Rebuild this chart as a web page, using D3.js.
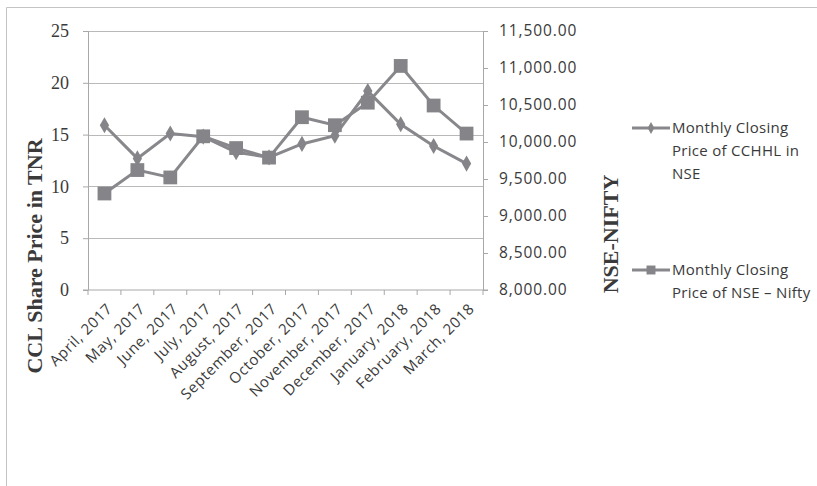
<!DOCTYPE html>
<html>
<head>
<meta charset="utf-8">
<script src="https://cdn.jsdelivr.net/npm/d3@7"></script>
<style>
  body { margin: 0; background: #fff; }
</style>
</head>
<body>
<div id="chart"></div>
<script>
// Monthly closing prices, April 2017 - March 2018
const months = ["April, 2017", "May, 2017", "June, 2017", "July, 2017", "August, 2017",
  "September, 2017", "October, 2017", "November, 2017", "December, 2017",
  "January, 2018", "February, 2018", "March, 2018"];
const cchhl = [15.9, 12.7, 15.1, 14.8, 13.3, 12.8, 14.1, 14.9, 19.2, 16.0, 13.9, 12.2];
const nifty = [9304, 9621, 9521, 10077, 9918, 9789, 10335, 10227, 10531, 11028, 10493, 10114];
const leftTicks = [0, 5, 10, 15, 20, 25];
const rightTicks = [8000, 8500, 9000, 9500, 10000, 10500, 11000, 11500];
const legendLabels = [
  ["Monthly Closing", "Price of CCHHL in", "NSE"],
  ["Monthly Closing", "Price of NSE \u2013 Nifty"]
];

const W = 817, H = 486;
const plot = { left: 88, right: 483, top: 31, bottom: 290 };
const lineColor = "#88888c";
const textColor = "#3a3a3a";

const svg = d3.select("#chart").append("svg")
  .attr("width", W)
  .attr("height", H);

// outer chart border (cut at right and bottom like the scan)
svg.append("path")
  .attr("d", "M6.5," + H + "V7.5H" + W)
  .attr("fill", "none")
  .attr("stroke", "#c4c4c4");

const x = d3.scaleBand().domain(months).range([plot.left, plot.right]);
const yL = d3.scaleLinear().domain([0, 25]).range([plot.bottom, plot.top]);
const yR = d3.scaleLinear().domain([8000, 11500]).range([plot.bottom, plot.top]);

// gridlines
svg.append("g").selectAll("line")
  .data(leftTicks.slice(1))
  .enter().append("line")
  .attr("x1", plot.left).attr("x2", plot.right)
  .attr("y1", d => Math.round(yL(d)) + 0.5)
  .attr("y2", d => Math.round(yL(d)) + 0.5)
  .attr("stroke", "#b9b9b9")
  .attr("stroke-width", 1.2);

// left axis
const gL = svg.append("g")
  .attr("transform", "translate(" + plot.left + ",0)")
  .call(d3.axisLeft(yL).tickValues(leftTicks).tickSize(5).tickPadding(14));
gL.selectAll("text")
  .style("font-family", "'Liberation Serif', serif")
  .style("font-size", "18px")
  .attr("fill", textColor);

// right axis
const gR = svg.append("g")
  .attr("transform", "translate(" + plot.right + ",0)")
  .call(d3.axisRight(yR).tickValues(rightTicks).tickSize(5).tickPadding(11)
    .tickFormat(d3.format(",.2f")));
gR.selectAll("text")
  .style("font-family", "'Open Sans', sans-serif")
  .style("font-size", "15.5px")
  .style("letter-spacing", "0.9px")
  .attr("fill", textColor);

// bottom axis with ticks between categories
const gB = svg.append("g")
  .attr("transform", "translate(0," + plot.bottom + ")");
gB.append("line")
  .attr("x1", plot.left - 5).attr("x2", plot.right + 5)
  .attr("stroke", "#a8a8a8");
gB.selectAll(".tk")
  .data(months.map(m => x(m)).concat([plot.right]))
  .enter().append("line")
  .attr("x1", d => d).attr("x2", d => d)
  .attr("y1", 0).attr("y2", 5)
  .attr("stroke", "#a8a8a8");
gB.selectAll(".lbl")
  .data(months)
  .enter().append("text")
  .attr("transform", d => "translate(" + (x(d) + x.bandwidth() / 2 + 5) + ",16) rotate(-45)")
  .attr("text-anchor", "end")
  .attr("dy", "0.35em")
  .style("font-family", "'Open Sans', sans-serif")
  .style("font-size", "15px")
  .style("letter-spacing", "0.6px")
  .attr("fill", textColor)
  .text(d => d);

[gL, gR].forEach(g => {
  g.select(".domain").attr("stroke", "#a8a8a8");
  g.selectAll(".tick line").attr("stroke", "#a8a8a8");
});
gL.select(".domain").attr("d", "M0.5," + plot.bottom + "V" + plot.top);
gR.select(".domain").attr("d", "M0.5," + plot.bottom + "V" + plot.top);

// axis titles
svg.append("text")
  .attr("transform", "translate(42," + 256 + ") rotate(-90)")
  .attr("text-anchor", "middle")
  .style("font-family", "'Liberation Serif', serif")
  .style("font-weight", "bold")
  .style("font-size", "22px")
  .attr("fill", textColor)
  .text("CCL Share Price in TNR");

svg.append("text")
  .attr("transform", "translate(618," + 234 + ") rotate(-90)")
  .attr("text-anchor", "middle")
  .style("font-family", "'Liberation Serif', serif")
  .style("font-weight", "bold")
  .style("font-size", "22px")
  .attr("fill", textColor)
  .text("NSE-NIFTY");

const cx = d => x(d) + x.bandwidth() / 2;
const diamond = d3.symbol().type(d3.symbolDiamond).size(75);
const square = d3.symbol().type(d3.symbolSquare).size(190);

// NSE Nifty line (right axis)
svg.append("path")
  .datum(nifty)
  .attr("fill", "none")
  .attr("stroke", lineColor)
  .attr("stroke-width", 3)
  .attr("d", d3.line().x((d, i) => cx(months[i])).y(d => yR(d)));

// CCHHL line (left axis)
svg.append("path")
  .datum(cchhl)
  .attr("fill", "none")
  .attr("stroke", lineColor)
  .attr("stroke-width", 3)
  .attr("d", d3.line().x((d, i) => cx(months[i])).y(d => yL(d)));

svg.append("g").selectAll("path")
  .data(nifty)
  .enter().append("path")
  .attr("d", square)
  .attr("transform", (d, i) => "translate(" + cx(months[i]) + "," + yR(d) + ")")
  .attr("fill", "#858589");

svg.append("g").selectAll("path")
  .data(cchhl)
  .enter().append("path")
  .attr("d", diamond)
  .attr("transform", (d, i) => "translate(" + cx(months[i]) + "," + yL(d) + ")")
  .attr("fill", "#858589");

// legend
const legendY = [128, 270];
const legendSymbols = [
  d3.symbol().type(d3.symbolDiamond).size(40),
  d3.symbol().type(d3.symbolSquare).size(80)
];
legendLabels.forEach((lines, k) => {
  const g = svg.append("g").attr("transform", "translate(632," + legendY[k] + ")");
  g.append("line").attr("x1", 0).attr("x2", 38)
    .attr("stroke", lineColor).attr("stroke-width", 3);
  g.append("path").attr("d", legendSymbols[k])
    .attr("transform", "translate(19,0)").attr("fill", "#858589");
  g.selectAll("text")
    .data(lines)
    .enter().append("text")
    .attr("x", 40)
    .attr("y", (d, i) => i * 23)
    .attr("dy", "0.35em")
    .style("font-family", "'Open Sans', sans-serif")
    .style("font-size", "15px")
    .style("letter-spacing", "0.3px")
    .attr("fill", textColor)
    .text(d => d);
});
</script>
</body>
</html>
